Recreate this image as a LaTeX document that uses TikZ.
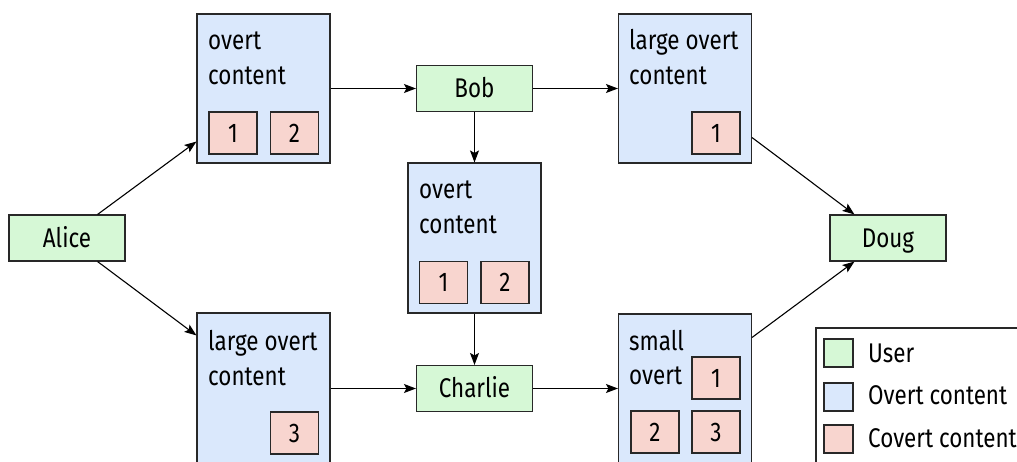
\documentclass[tikz,border=0pt]{standalone}
\usepackage{fontspec}
\setmainfont{Fira Sans}[FakeStretch=0.83]
\usetikzlibrary{arrows.meta}
\definecolor{usergreen}{RGB}{214,248,214}
\definecolor{overtblue}{RGB}{218,232,252}
\definecolor{covertpink}{RGB}{248,213,207}
\definecolor{linec}{RGB}{40,40,40}
\newcommand\diafont{\fontsize{27}{32}\selectfont}
\begin{document}
\begin{tikzpicture}[x=1pt,y=-1pt,
  base/.style={draw=linec, line width=1.1pt, inner sep=0pt, font=\diafont, text height=18.6pt, text depth=0pt},
  user/.style={base, fill=usergreen, minimum width=116pt, minimum height=46pt},
  overt/.style={base, fill=overtblue, minimum width=133pt},
  covert/.style={base, fill=covertpink, minimum width=48pt, minimum height=42pt},
  swatch/.style={base, minimum width=29pt, minimum height=28pt},
  lbl/.style={anchor=base west, inner sep=0pt, font=\diafont},
  arr/.style={-{Stealth[length=12pt,width=9pt,inset=2.5pt]}, line width=1.1pt, draw=black}
]
\useasboundingbox (0,0) rectangle (1017,462);
\clip (0,0) rectangle (1017,462);

% overt content boxes
\node[overt, minimum height=149pt] (boxA) at (263.5,88.5) {};
\node[overt, minimum height=149pt] (boxC) at (685,88.5) {};
\node[overt, minimum height=150pt] (mid) at (474.5,238) {};
\node[overt, minimum height=167pt] (boxB) at (263.5,396.5) {};
\node[overt, minimum height=166pt] (boxD) at (685,397) {};

% users
\node[user] (alice) at (67,238) {Alice};
\node[user] (bob) at (474.5,88.5) {Bob};
\node[user] (charlie) at (474.5,388.5) {Charlie};
\node[user] (doug) at (888,238) {Doug};

% texts in overt boxes
\node[lbl] (tA1) at (208,50) {overt};
\node[lbl] (tA2) at (208,85) {content};
\node[lbl] (tC1) at (629,50) {large overt};
\node[lbl] (tC2) at (629,85) {content};
\node[lbl] (tM1) at (419,199) {overt};
\node[lbl] (tM2) at (419,234) {content};
\node[lbl] (tB1) at (208,350) {large overt};
\node[lbl] (tB2) at (208,385) {content};
\node[lbl] (tD1) at (629,350) {small};
\node[lbl] (tD2) at (629,384) {overt};

% covert content
\node[covert] (a1) at (233,133) {1};
\node[covert] (a2) at (294.5,133) {2};
\node[covert] (c1) at (716,133) {1};
\node[covert] (m1) at (443.5,282.5) {1};
\node[covert] (m2) at (505,282.5) {2};
\node[covert] (b3) at (294.5,433) {3};
\node[covert] (d1) at (716,378) {1};
\node[covert] (d2) at (655,432) {2};
\node[covert] (d3) at (716,432) {3};

% connectors
\draw[arr] ([xshift=-28pt]alice.north east) -- ([yshift=22pt]boxA.south west);
\draw[arr] ([xshift=-28pt]alice.south east) -- ([yshift=-23pt]boxB.north west);
\draw[arr] (boxA.east) -- (bob.west);
\draw[arr] (bob.east) -- (bob.east -| boxC.west);
\draw[arr] (bob.south) -- (mid.north);
\draw[arr] (mid.south) -- (charlie.north);
\draw[arr] (charlie.west -| boxB.east) -- (charlie.west);
\draw[arr] (charlie.east) -- (charlie.east -| boxD.west);
\draw[arr] ([yshift=26pt]boxC.south east) -- ([xshift=25pt]doug.north west);
\draw[arr] ([yshift=-24pt]boxD.north east) -- ([xshift=25pt]doug.south west);

% legend
\node[base, fill=white, minimum width=224pt, minimum height=152pt] (legend) at (928,404) {};
\node[swatch, fill=usergreen] (sw1) at (838.5,353) {};
\node[swatch, fill=overtblue] (sw2) at (838.5,397) {};
\node[swatch, fill=covertpink] (sw3) at (838.5,439) {};
\node[lbl] (l1) at (868,362) {User};
\node[lbl] (l2) at (868,404) {Overt content};
\node[lbl] (l3) at (868,447) {Covert content};
\end{tikzpicture}
\end{document}
